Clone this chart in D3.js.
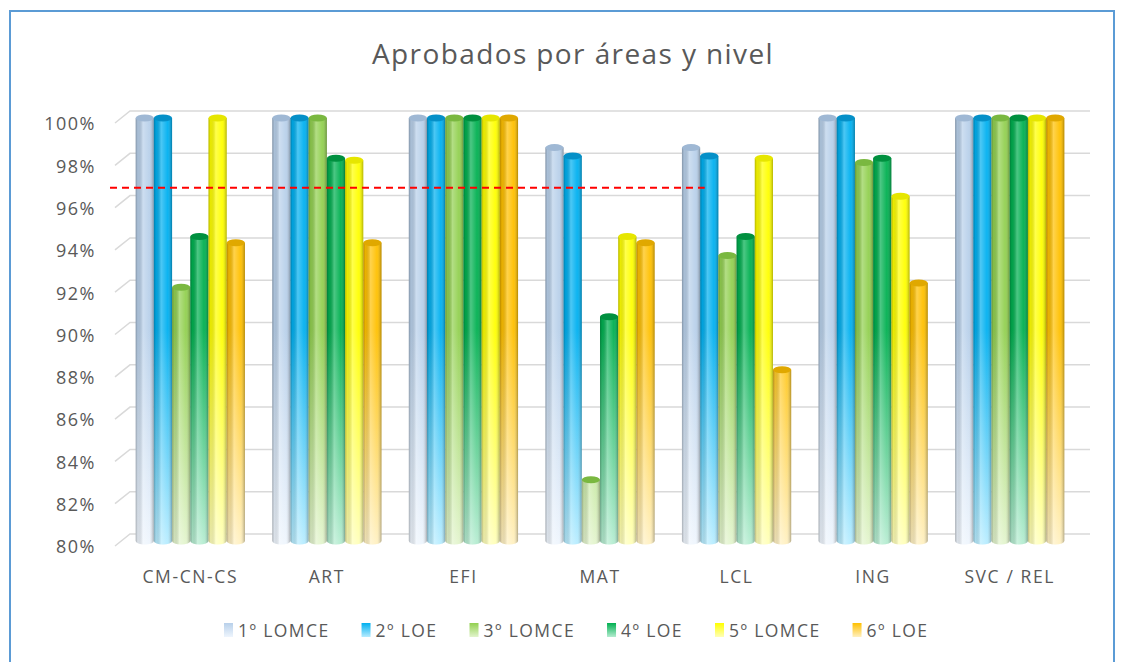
<!DOCTYPE html>
<html>
<head>
<meta charset="utf-8">
<script src="https://cdn.jsdelivr.net/npm/d3@7"></script>
<style>
  html, body { margin: 0; padding: 0; background: #fff; }
  text { font-family: "Open Sans", Lato, sans-serif; fill: #595959; }
</style>
</head>
<body>
<div id="chart"></div>
<script>
// Chart data
const categories = ['CM-CN-CS', 'ART', 'EFI', 'MAT', 'LCL', 'ING', 'SVC / REL'];
const series = ['1º LOMCE', '2º LOE', '3º LOMCE', '4º LOE', '5º LOMCE', '6º LOE'];
const values = [
    [100, 100, 92.0, 94.4, 100, 94.1],   // CM-CN-CS
    [100, 100, 100, 98.1, 98.0, 94.1],   // ART
    [100, 100, 100, 100, 100, 100],      // EFI
    [98.6, 98.2, 82.9, 90.6, 94.4, 94.1],// MAT
    [98.6, 98.2, 93.5, 94.4, 98.1, 88.1],// LCL
    [100, 100, 97.9, 98.1, 96.3, 92.2],  // ING
    [100, 100, 100, 100, 100, 100]       // SVC / REL
];
const yTicks = [80, 82, 84, 86, 88, 90, 92, 94, 96, 98, 100];
const averageLine = 96.7;
const title = 'Aprobados por áreas y nivel';

const colors = ['#b8d0ea', '#00b0f0', '#92d050', '#00b050', '#ffff00', '#ffc000'];
const lightColors = ['#eef5fd', '#b6ecff', '#e2f4cc', '#b4ecd0', '#ffffb8', '#fff0c0'];
const capColors = ['#9fb8d4', '#0590c8', '#7ab840', '#00903f', '#e6e600', '#e0a800'];

const width = 1124, height = 662;

let svg = d3.select('#chart')
    .append('svg')
    .attr('width', width)
    .attr('height', height);

let defs = svg.append('defs');

let x0 = d3.scaleBand()
    .domain(categories)
    .range([122, 1078])
    .paddingInner(0.2)
    .paddingOuter(0.1);

let x1 = d3.scaleBand()
    .domain(series)
    .range([0, x0.bandwidth()]);

let y = d3.scaleLinear()
    .domain([80, 100])
    .range([541, 118]);

// Gradients: vertical fade per series, horizontal cylinder shading
series.forEach((s, i) => {
    let g = defs.append('linearGradient')
        .attr('id', 'fade' + i)
        .attr('gradientUnits', 'userSpaceOnUse')
        .attr('x1', 0).attr('x2', 0)
        .attr('y1', y(100)).attr('y2', y(80));
    g.append('stop').attr('offset', 0).attr('stop-color', colors[i]);
    g.append('stop').attr('offset', 0.5).attr('stop-color', colors[i]);
    g.append('stop').attr('offset', 1).attr('stop-color', lightColors[i]);

    let lg = defs.append('linearGradient')
        .attr('id', 'legend' + i)
        .attr('x1', 0).attr('x2', 0).attr('y1', 0).attr('y2', 1);
    lg.append('stop').attr('offset', 0).attr('stop-color', colors[i]);
    lg.append('stop').attr('offset', 1).attr('stop-color', lightColors[i]);
});

let shade = defs.append('linearGradient')
    .attr('id', 'cyl')
    .attr('x1', 0).attr('x2', 1).attr('y1', 0).attr('y2', 0);
shade.append('stop').attr('offset', 0).attr('stop-color', '#000').attr('stop-opacity', 0.28);
shade.append('stop').attr('offset', 0.12).attr('stop-color', '#000').attr('stop-opacity', 0.08);
shade.append('stop').attr('offset', 0.4).attr('stop-color', '#fff').attr('stop-opacity', 0.3);
shade.append('stop').attr('offset', 0.75).attr('stop-color', '#fff').attr('stop-opacity', 0.05);
shade.append('stop').attr('offset', 1).attr('stop-color', '#000').attr('stop-opacity', 0.3);

// Frame
svg.append('rect')
    .attr('x', 10).attr('y', 11)
    .attr('width', 1104).attr('height', 670)
    .attr('fill', 'none')
    .attr('stroke', '#5b9bd5')
    .attr('stroke-width', 2);

// Title
svg.append('text')
    .attr('x', 573).attr('y', 64)
    .attr('text-anchor', 'middle')
    .attr('font-size', 28)
    .attr('letter-spacing', 1.4)
    .text(title);

// Gridlines (back wall with slanted floor edge)
let depth = 12,
    gridLeft = x0.range()[0] + 8,
    gridRight = x0.range()[1] + 12;

let grid = svg.append('g').attr('class', 'grid');
grid.selectAll('path')
    .data(yTicks)
    .enter().append('path')
    .attr('d', d => {
        let yb = y(d) - 7;
        return 'M' + (gridLeft - 15) + ',' + (yb + depth) + 'L' + gridLeft + ',' + yb + 'L' + gridRight + ',' + yb;
    })
    .attr('fill', 'none')
    .attr('stroke', '#d9d9d9')
    .attr('stroke-width', 1.5);

// Y labels
svg.append('g')
    .selectAll('text')
    .data(yTicks)
    .enter().append('text')
    .attr('x', 96)
    .attr('y', d => y(d) + 6)
    .attr('dy', '0.35em')
    .attr('text-anchor', 'end')
    .attr('font-size', 18)
    .attr('letter-spacing', 1.5)
    .text(d => d + '%');

// Bars as cylinders
let rx = x1.bandwidth() / 2, ry = 3.5;
let groups = svg.append('g')
    .selectAll('g')
    .data(categories)
    .enter().append('g')
    .attr('transform', d => 'translate(' + x0(d) + ',0)');

let bars = groups.selectAll('g')
    .data((d, ci) => series.map((s, i) => ({ s, i, v: values[ci][i] })))
    .enter().append('g');

function cylinder(d) {
    let xl = x1(d.s), xr = xl + x1.bandwidth(), yt = y(d.v), yb = y(80);
    return 'M' + xl + ',' + yt + 'L' + xl + ',' + yb +
        'A' + rx + ',' + ry + ' 0 0 0 ' + xr + ',' + yb +
        'L' + xr + ',' + yt + 'Z';
}

bars.append('path')
    .attr('d', cylinder)
    .attr('fill', d => 'url(#fade' + d.i + ')');

bars.append('path')
    .attr('d', cylinder)
    .attr('fill', 'url(#cyl)');

bars.append('ellipse')
    .attr('cx', d => x1(d.s) + rx)
    .attr('cy', d => y(d.v))
    .attr('rx', rx)
    .attr('ry', ry)
    .attr('fill', d => capColors[d.i]);

// Average dashed line
svg.append('line')
    .attr('x1', x0.range()[0] - 12)
    .attr('x2', x0('LCL') + x1('2º LOE') + x1.bandwidth() / 4)
    .attr('y1', y(averageLine))
    .attr('y2', y(averageLine))
    .attr('stroke', '#ff0000')
    .attr('stroke-width', 2)
    .attr('stroke-dasharray', '7,5');

// X labels
svg.append('g')
    .selectAll('text')
    .data(categories)
    .enter().append('text')
    .attr('x', d => x0(d) + x0.bandwidth() / 2)
    .attr('y', 583)
    .attr('text-anchor', 'middle')
    .attr('font-size', 17.5)
    .attr('letter-spacing', 1.6)
    .text(d => d);

// Legend
let legend = svg.append('g').attr('class', 'legend');
let lx = 224;
series.forEach((s, i) => {
    legend.append('rect')
        .attr('x', lx).attr('y', 623)
        .attr('width', 9).attr('height', 14)
        .attr('fill', 'url(#legend' + i + ')');
    let t = legend.append('text')
        .attr('x', lx + 14).attr('y', 637)
        .attr('font-size', 17.5)
        .attr('letter-spacing', 1.4)
        .text(s);
    lx += 14 + t.node().getComputedTextLength() + 32;
});
</script>
</body>
</html>
